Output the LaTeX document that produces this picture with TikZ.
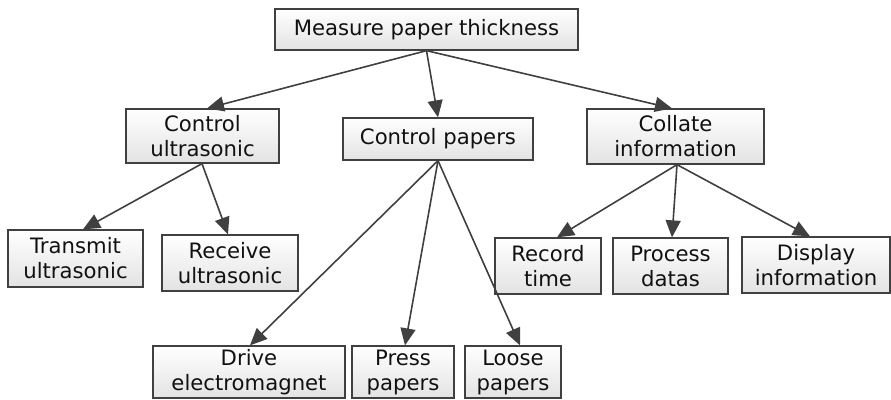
\documentclass[tikz,border=0pt]{standalone}
\usepackage{fontspec}
\setmainfont{DejaVu Sans}
\usetikzlibrary{arrows.meta}
\definecolor{edge}{HTML}{404040}
\definecolor{ink}{HTML}{111111}
\begin{document}
\begin{tikzpicture}[x=1pt,y=-1pt,
  box/.style={draw=edge, line width=1.3pt, top color=white, bottom color=gray!22,
    inner sep=0pt, align=center, text=ink,
    font=\fontsize{21.2}{25}\selectfont},
  link/.style={draw=edge, line width=1.6pt, -{Triangle[length=17pt,width=15pt]}}]
\useasboundingbox (0,0) rectangle (891,399);

% tree nodes
\node[box, minimum width=303pt, minimum height=41pt] (top) at (426.5,29.5) {Measure paper thickness};
\node[box, minimum width=153pt, minimum height=54pt] (cu) at (202.5,136) {Control\\ultrasonic};
\node[box, minimum width=190pt, minimum height=42pt] (cp) at (438,139) {Control papers};
\node[box, minimum width=177pt, minimum height=55pt] (ci) at (675.5,136.5) {Collate\\information};
\node[box, minimum width=135pt, minimum height=57pt] (tu) at (75.5,258.5) {Transmit\\ultrasonic};
\node[box, minimum width=136pt, minimum height=56pt] (ru) at (230,263) {Receive\\ultrasonic};
\node[box, minimum width=106pt, minimum height=56pt] (rt) at (548,266) {Record\\time};
\node[box, minimum width=115pt, minimum height=56pt] (pd) at (670.5,266) {Process\\datas};
\node[box, minimum width=148pt, minimum height=56pt] (di) at (816,265) {Display\\information};
\node[box, minimum width=192pt, minimum height=52pt] (de) at (249,372) {Drive\\electromagnet};
\node[box, minimum width=102pt, minimum height=52pt] (pp) at (403,372) {Press\\papers};
\node[box, minimum width=96pt, minimum height=52pt] (lp) at (513,372) {Loose\\papers};

% connectors
\draw[link] (top.south) -- ([xshift=4.5pt]cu.north);
\draw[link] (top.south) -- (cp.north);
\draw[link] (top.south) -- ([xshift=-3.5pt]ci.north);

\draw[link] ([xshift=-0.5pt]cu.south) -- ([xshift=7.5pt]tu.north);
\draw[link] ([xshift=-0.5pt]cu.south) -- ([xshift=-2pt]ru.north);

\draw[link] (cp.south) -- ([xshift=1pt]de.north);
\draw[link] (cp.south) -- ([xshift=2pt]pp.north);
\draw[link] (cp.south) -- ([xshift=7pt]lp.north);

\draw[link] ([xshift=1.5pt]ci.south) -- ([xshift=9pt]rt.north);
\draw[link] ([xshift=1.5pt]ci.south) -- ([xshift=1.5pt]pd.north);
\draw[link] ([xshift=1.5pt]ci.south) -- ([xshift=-6pt]di.north);
\end{tikzpicture}
\end{document}
